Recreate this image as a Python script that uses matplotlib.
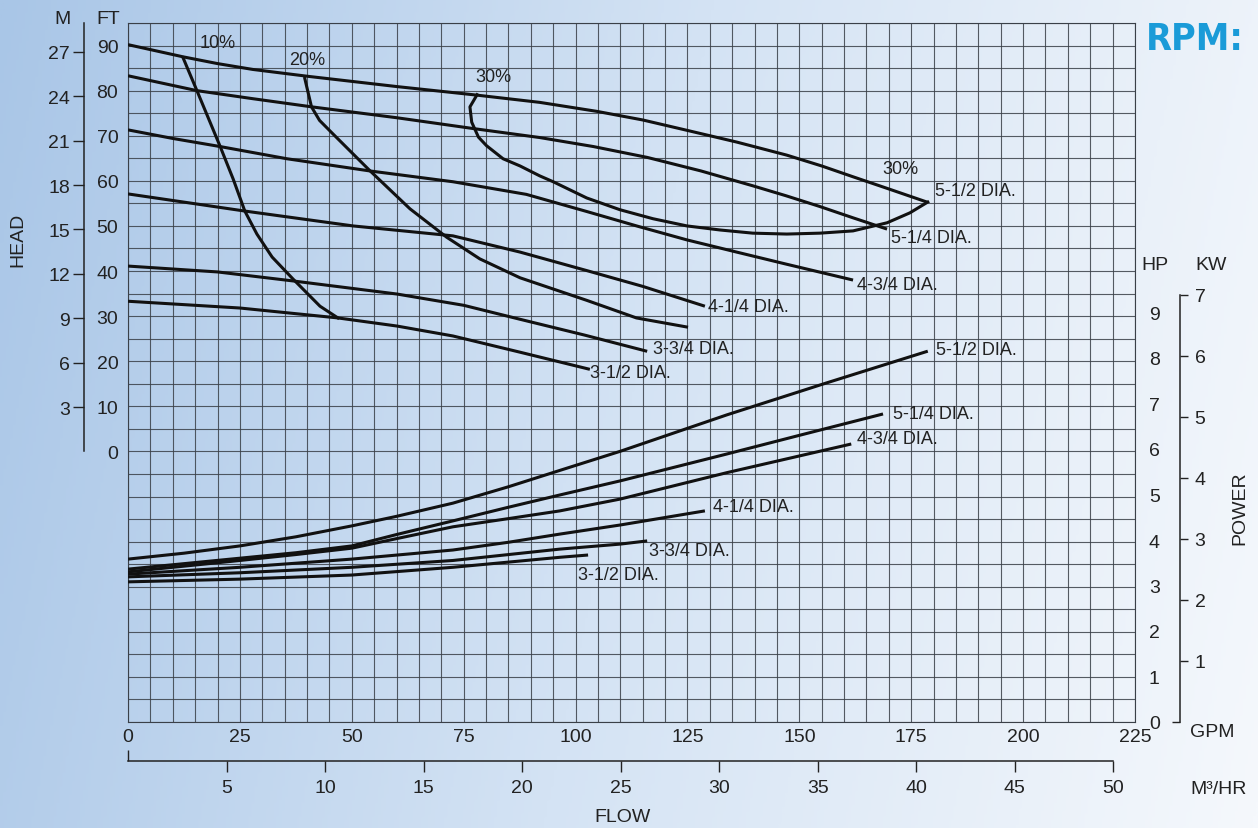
import numpy as np
import matplotlib
matplotlib.use('Agg')
import matplotlib.pyplot as plt
from matplotlib import font_manager
from matplotlib.font_manager import FontProperties
from matplotlib.colors import LinearSegmentedColormap

names = {f.name for f in font_manager.fontManager.ttflist}
BASE = 'Liberation Sans' if 'Liberation Sans' in names else 'DejaVu Sans'
plt.rcParams['font.family'] = [BASE, 'DejaVu Sans']

# look for a condensed bold face for the "RPM:" title
cond = None
for f in font_manager.fontManager.ttflist:
    if ('Condensed' in f.name or 'Narrow' in f.name or str(f.stretch) in ('condensed', 'semi-condensed', '75', '87.5')) \
            and f.weight in ('bold', 700, 'semibold', 600):
        cond = f.fname
        break
if cond is None:
    for f in font_manager.fontManager.ttflist:
        if 'Condensed' in f.name or 'Narrow' in f.name or str(f.stretch) in ('condensed', 'semi-condensed'):
            cond = f.fname
            break

#---- Data (flow in GPM, head in FT, power in HP)

dia_labels = ['5-1/2 DIA.', '5-1/4 DIA.', '4-3/4 DIA.', '4-1/4 DIA.', '3-3/4 DIA.', '3-1/2 DIA.']

head_q = [
    [0, 12.3, 20, 27.9, 40, 60.1, 78, 92, 104.8, 115, 124.9, 136, 147.2, 155, 162, 170, 178.5],
    [0, 15.4, 28, 41.1, 60, 77.1, 92, 104, 116, 128, 139.6, 147, 154.6, 162, 169.6],
    [0, 10, 20.6, 35.5, 54, 72.6, 89, 102.5, 114, 124.9, 136, 147.2, 162],
    [0, 26.1, 50.3, 72.6, 87.6, 102.5, 115, 128.9],
    [0, 20, 36.9, 60.1, 75, 87.6, 102, 116],
    [0, 25, 46.9, 60.1, 72.6, 87.6, 103.2],
]
head_ft = [
    [90.2, 87.5, 86.0, 84.7, 83.2, 80.9, 79.0, 77.4, 75.4, 73.5, 71.2, 68.6, 65.7, 63.3, 60.9, 58.2, 55.3],
    [83.3, 80.0, 78.2, 76.4, 74.0, 71.6, 69.6, 67.6, 65.2, 62.2, 58.9, 56.7, 54.3, 51.8, 49.3],
    [71.3, 69.4, 67.6, 64.9, 62.2, 59.8, 57.0, 53.2, 49.9, 46.9, 44.2, 41.5, 38.0],
    [57.1, 53.3, 50.0, 47.8, 44.2, 40.1, 36.6, 32.2],
    [41.1, 39.8, 37.8, 34.9, 32.4, 29.3, 25.8, 22.2],
    [33.3, 31.8, 29.6, 27.8, 25.6, 22.0, 18.2],
]

power_q = [
    [0, 12.5, 25, 37.5, 50, 60, 72.6, 85, 96.5, 110, 133.8, 156, 178.7],
    [0, 25, 37.5, 50, 60, 72.6, 85, 96.5, 110, 133.8, 150, 168.7],
    [0, 25, 37.5, 50, 60, 72.6, 85, 96.5, 110, 133.8, 161.6],
    [0, 25, 50, 72.6, 85, 96.5, 110, 128.9],
    [0, 25, 50, 72.6, 96.5, 110, 116],
    [0, 25, 50, 72.6, 96.5, 102.8],
]
power_hp = [
    [3.58, 3.71, 3.87, 4.07, 4.31, 4.52, 4.81, 5.17, 5.53, 5.95, 6.75, 7.45, 8.15],
    [3.36, 3.6, 3.72, 3.87, 4.12, 4.42, 4.72, 4.99, 5.3, 5.89, 6.3, 6.77],
    [3.3, 3.55, 3.68, 3.82, 4.03, 4.29, 4.47, 4.64, 4.9, 5.48, 6.11],
    [3.25, 3.4, 3.58, 3.78, 3.95, 4.13, 4.33, 4.64],
    [3.19, 3.28, 3.4, 3.55, 3.8, 3.91, 3.98],
    [3.08, 3.14, 3.23, 3.4, 3.62, 3.67],
]

eff10_q = [12.3, 15.4, 20.6, 23.5, 26.1, 28.8, 32.2, 36.9, 42.9, 46.9]
eff10_ft = [87.3, 80, 67.6, 60.4, 53.3, 48.2, 43.1, 38.2, 32.2, 29.6]
eff20_q = [39.5, 41, 42.8, 45.8, 54.1, 63, 71.2, 78.6, 87.6, 102.5, 113.6, 124.8]
eff20_ft = [82.7, 76.4, 73.4, 70.4, 62.2, 53.8, 47.5, 42.7, 38.5, 33.5, 29.6, 27.6]
eff30_q = [78.0, 76.4, 76.8, 78.3, 80.1, 83.8, 87.6, 92.0, 95.0, 102.5, 109.9, 117.3,
           124.9, 132.3, 139.6, 147.2, 154.6, 162.0, 169.6, 174.7, 178.7]
eff30_ft = [79.1, 76.4, 73.0, 69.7, 67.8, 64.9, 63.3, 61.1, 59.8, 56.2, 53.6, 51.6,
            50.0, 49.1, 48.4, 48.2, 48.4, 48.9, 50.7, 52.9, 55.3]

gpm_ticks = list(range(0, 226, 25))
ft_ticks = list(range(0, 91, 10))
m_ticks = list(range(3, 28, 3))
hp_ticks = list(range(0, 10))
kw_ticks = list(range(1, 8))
m3_ticks = list(range(5, 51, 5))

FT_PER_M = 3.28084
GPM_PER_M3HR = 4.403
KW_PER_HP = 0.7457

#---- Figure

W, H = 1258, 829
fig = plt.figure(figsize=(W/100, H/100), dpi=100)

# background gradient
bg = fig.add_axes([0, 0, 1, 1], zorder=0)
xx, yy = np.meshgrid(np.linspace(0, 1, 400), np.linspace(1, 0, 300))
t = 0.88*xx + 0.12*(1-yy)
cmap = LinearSegmentedColormap.from_list('bg', ['#a9c6e7', '#d4e3f4', '#f5f8fc'])
bg.imshow(t, cmap=cmap, aspect='auto', extent=[0, 1, 0, 1], vmin=0, vmax=1)
bg.axis('off')

L, R, T, B = 128, 1135, 24, 723
rect = [L/W, 1-B/H, (R-L)/W, (B-T)/H]
ax = fig.add_axes(rect, zorder=1)
ax.set_facecolor('none')

grid_c = '#3a4048'
ax.set_xlim(0, 225)
ax.set_ylim(-60, 95)
ax.set_xticks(gpm_ticks)
ax.set_xticks(np.arange(0, 226, 5), minor=True)
ax.set_yticks(ft_ticks)
ax.set_yticks(np.arange(-60, 96, 5), minor=True)
ax.grid(which='both', color=grid_c, lw=0.8, alpha=0.85)
ax.tick_params(which='both', length=0, labelsize=14, colors='#222222')
ax.tick_params(axis='x', pad=4)
ax.tick_params(axis='y', pad=7)
for s in ax.spines.values():
    s.set_color(grid_c)
    s.set_linewidth(0.8)

lw = 2.2
for q, h in zip(head_q, head_ft):
    ax.plot(q, h, color='#111111', lw=lw, solid_capstyle='butt',
            solid_joinstyle='round', zorder=3)
for q, h in [(eff10_q, eff10_ft), (eff20_q, eff20_ft), (eff30_q, eff30_ft)]:
    ax.plot(q, h, color='#111111', lw=lw, solid_joinstyle='round', zorder=3)

head_offsets = [(6, 8), (3, -6), (3, -3), (2, 0), (4, 2), (0, -2)]
for q, h, lab, off in zip(head_q, head_ft, dia_labels, head_offsets):
    ax.annotate(lab, xy=(q[-1], h[-1]), xytext=off, textcoords='offset points',
                ha='left', va='center', fontsize=13, color='#222222')

eff_labels = [('10%', eff10_q[0], eff10_ft[0], (25, 11)),
              ('20%', eff20_q[0], eff20_ft[0], (2, 14)),
              ('30%', eff30_q[0], eff30_ft[0], (12, 13)),
              ('30%', eff30_q[-1], eff30_ft[-1], (-20, 24))]
for lab, q, h, off in eff_labels:
    ax.annotate(lab, xy=(q, h), xytext=off, textcoords='offset points',
                ha='center', va='center', fontsize=13, color='#222222')

# power (HP) axis
hp_top = (B-T)/45.5
ax_hp = ax.twinx()
ax_hp.set_ylim(0, hp_top)
ax_hp.set_yticks(hp_ticks)
ax_hp.tick_params(length=0, labelsize=14, pad=10, colors='#222222')
for s in ax_hp.spines.values():
    s.set_visible(False)
for q, p in zip(power_q, power_hp):
    ax_hp.plot(q, p, color='#111111', lw=lw, solid_capstyle='butt',
               solid_joinstyle='round', zorder=3)

power_offsets = [(6, 1), (7, 0), (4, 4), (6, 3), (1, -7), (-7, -14)]
for q, p, lab, off in zip(power_q, power_hp, dia_labels, power_offsets):
    ax_hp.annotate(lab, xy=(q[-1], p[-1]), xytext=off, textcoords='offset points',
                   ha='left', va='center', fontsize=13, color='#222222')

# KW axis
ax_kw = ax.twinx()
ax_kw.set_ylim(0, hp_top*KW_PER_HP)
for k in ['top', 'bottom', 'left']:
    ax_kw.spines[k].set_visible(False)
ax_kw.spines['right'].set_position(('axes', (1180-L)/(R-L)))
ax_kw.spines['right'].set_bounds(0, 7)
ax_kw.spines['right'].set_color('#222222')
ax_kw.spines['right'].set_linewidth(1.1)
ax_kw.set_yticks(kw_ticks)
ax_kw.set_yticks([0], minor=True)
ax_kw.tick_params(which='major', direction='out', length=5.5, width=1.0,
                  labelsize=14, pad=5, colors='#222222')
ax_kw.tick_params(which='minor', direction='in', length=5.5, width=1.0, colors='#222222')

# M axis (left)
ax_m = fig.add_axes(rect, zorder=1)
ax_m.set_facecolor('none')
ax_m.set_ylim(-60/FT_PER_M, 95/FT_PER_M)
ax_m.set_xticks([])
for k in ['top', 'bottom', 'right']:
    ax_m.spines[k].set_visible(False)
ax_m.spines['left'].set_position(('axes', (84-L)/(R-L)))
ax_m.spines['left'].set_bounds(0, 95/FT_PER_M)
ax_m.spines['left'].set_color('#222222')
ax_m.spines['left'].set_linewidth(1.1)
ax_m.set_yticks(m_ticks)
ax_m.tick_params(axis='y', direction='out', length=8, width=1.0, labelsize=14,
                 pad=2, colors='#222222')

# M3/HR axis (bottom)
ax_m3 = ax.twiny()
ax_m3.set_xlim(0, 225/GPM_PER_M3HR)
ax_m3.xaxis.tick_bottom()
for k in ['top', 'left', 'right']:
    ax_m3.spines[k].set_visible(False)
ax_m3.spines['bottom'].set_position(('axes', -(762-B)/(B-T)))
ax_m3.spines['bottom'].set_bounds(0, 50)
ax_m3.spines['bottom'].set_color('#222222')
ax_m3.spines['bottom'].set_linewidth(1.1)
ax_m3.set_xticks(m3_ticks)
ax_m3.set_xticks([0], minor=True)
ax_m3.tick_params(which='major', direction='out', length=8, width=1.0,
                  labelsize=14, pad=5, colors='#222222')
ax_m3.tick_params(which='minor', direction='in', length=8, width=1.0, colors='#222222')

# axis titles
def ftext(x, y, s, **kw):
    fig.text(x/W, 1-y/H, s, ha='center', va='center', fontsize=14, color='#222222', **kw)

ftext(62, 20, 'M')
ftext(108, 20, 'FT')
ftext(18, 240, 'HEAD', rotation=90)
ftext(1155, 265, 'HP')
ftext(1211, 265, 'KW')
ftext(1240, 508, 'POWER', rotation=90)
ftext(1212, 733, 'GPM')
ftext(1219, 790, 'M³/HR')
ftext(622, 818, 'FLOW')

if cond is not None:
    rpm_fp = FontProperties(fname=cond, size=27)
else:
    rpm_fp = FontProperties(family=BASE, weight='bold', size=24)
fig.text(1244/W, 1-40/H, 'RPM:', ha='right', va='center', fontproperties=rpm_fp,
         color='#1a9bd8')

plt.savefig('out.png', dpi=100)
